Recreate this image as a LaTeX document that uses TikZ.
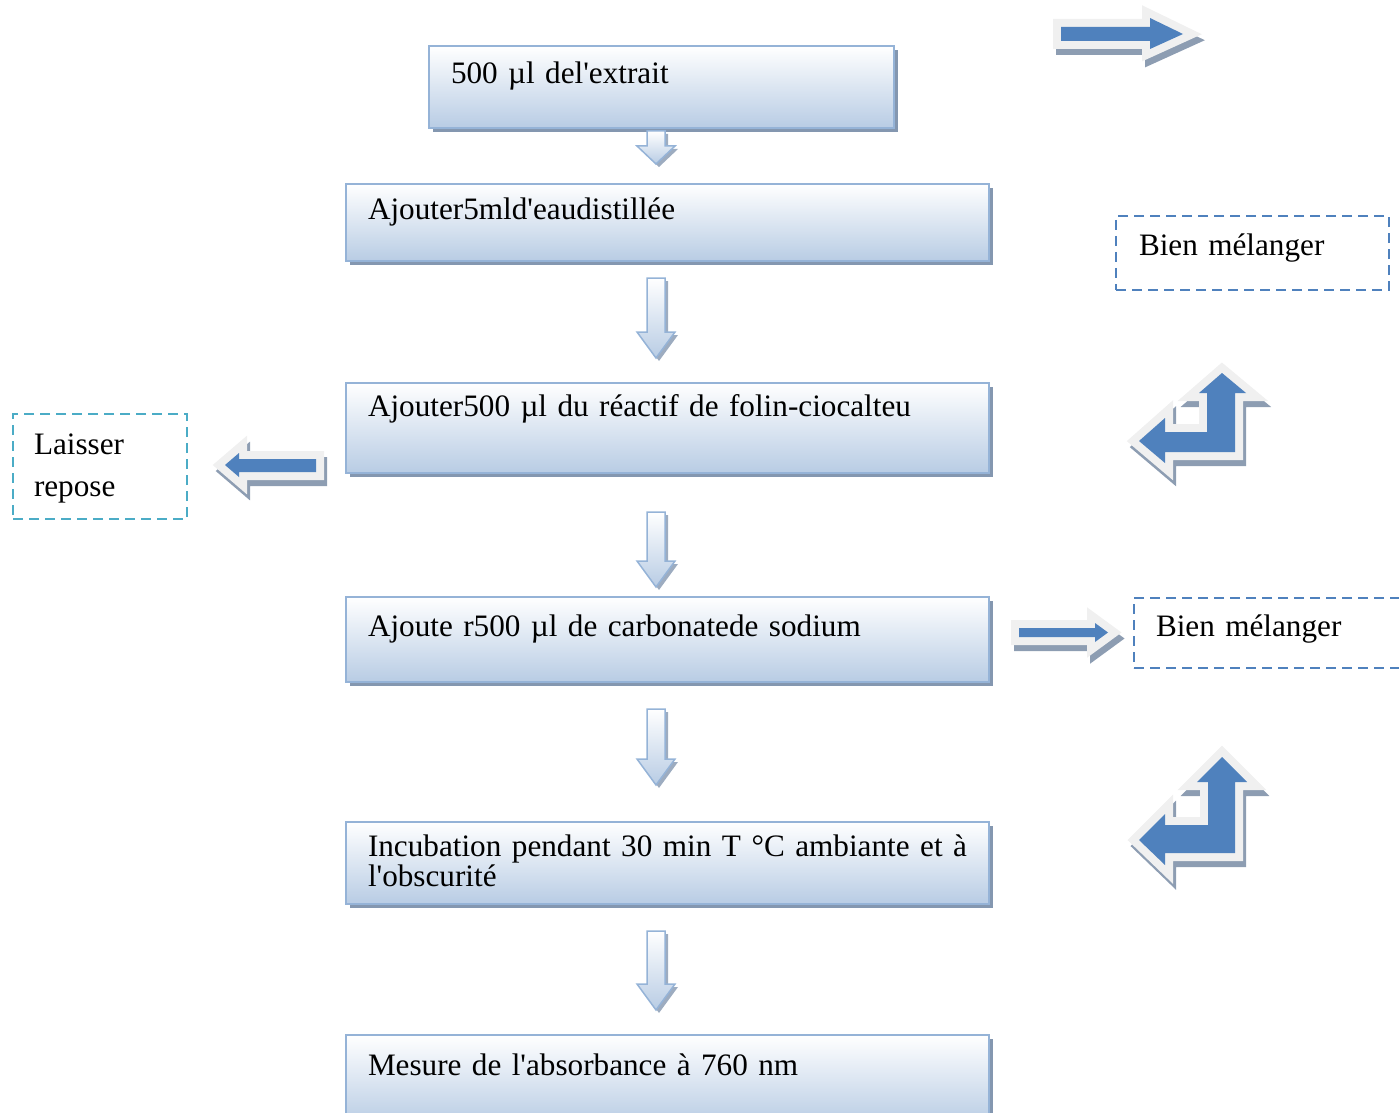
\documentclass[tikz,border=0pt]{standalone}
\usepackage{fontspec}
\setmainfont{Liberation Serif}[Ligatures=TeXOff]
\usetikzlibrary{shadows}

\definecolor{boxborder}{RGB}{149,179,215}
\definecolor{boxfill}{RGB}{184,204,228}
\definecolor{boxshadow}{RGB}{132,151,176}
\definecolor{blockblue}{RGB}{79,129,189}
\definecolor{blockrim}{RGB}{240,240,240}
\definecolor{blockshadow}{RGB}{141,157,178}
\definecolor{notecyan}{RGB}{75,172,198}

\begin{document}
\begin{tikzpicture}[x=0.5pt, y=-0.5pt, font=\fontsize{15.6}{15}\selectfont]
	\tikzstyle{Step}  = [rectangle, draw=boxborder, line width=1pt, top color=white, bottom color=boxfill, anchor=north west, inner xsep=11pt, inner ysep=0pt, text width=299.5pt, align=left, drop shadow={shadow xshift=2pt, shadow yshift=-2pt, fill=boxshadow, opacity=1}]
	\tikzstyle{Down}  = [draw=boxborder, line width=0.75pt, top color=white, bottom color=boxfill, drop shadow={shadow xshift=1.5pt, shadow yshift=-1.5pt, fill=boxshadow!80, opacity=1}]
	\tikzstyle{Note}  = [rectangle, draw=blockblue, line width=1pt, dash pattern=on 5pt off 3pt, anchor=north west, inner ysep=0pt, align=left]
	\tikzstyle{Block} = [fill=blockblue, miter limit=10,
		preaction={draw=blockshadow, fill=blockshadow, line width=8pt, transform canvas={shift={(1.5pt,-3pt)}}},
		preaction={draw=blockrim, fill=blockrim, line width=8pt}]

	\useasboundingbox (0,0) rectangle (1399,1113);

	% steps
	\node (s1) at (428,45) [Step, text width=210.5pt, text height=19pt, text depth=22pt] {500 µl del'extrait};
	\node (s2) at (345,183) [Step, text height=18pt, text depth=20.5pt] {Ajouter5mld'eaudistillée};
	\node (s3) at (345,382) [Step, text height=16.5pt, text depth=28.5pt] {Ajouter500 µl du réactif de folin-ciocalteu};
	\node (s4) at (345,596) [Step, text height=19.5pt, text depth=23pt] {Ajoute r500 µl de carbonatede sodium};
	\node (s5) at (345,821) [Step, align=justify, text height=17pt, text depth=24pt] {Incubation pendant 30 min T °C ambiante et à\linebreak l'obscurité};
	\node (s6) at (345,1034) [Step, text height=20pt, text depth=25pt] {Mesure de l'absorbance à 760 nm};

	% arrows between the steps
	\foreach \t/\b/\h in {131/164/18, 278/358/26, 512/587/26, 709/785/26, 931/1010/26}
		\draw[Down] (647,\t) -- (665,\t) -- (665,\b-\h) -- (675,\b-\h) -- (656,\b) -- (637,\b-\h) -- (647,\b-\h) -- cycle;

	% notes
	\node (mix1) at (1115,215) [Note, inner xsep=11.5pt, text width=113.5pt, text height=20pt, text depth=17pt] {Bien mélanger};
	\node (rest) at (12,413) [Note, draw=notecyan, font=\fontsize{15.6}{21}\selectfont, inner xsep=10.5pt, text width=66pt, text height=20pt, text depth=32.5pt] {Laisser\\repose};
	\node (mix2) at (1133,597) [Note, inner xsep=11pt, text width=123pt, text height=19pt, text depth=16pt] {Bien mélanger};

	% blue block arrows
	\path[Block] (1061,27) -- (1150,27) -- (1150,18) -- (1183,34) -- (1150,49) -- (1150,41) -- (1061,41) -- cycle;
	\path[Block] (316,459) -- (239,459) -- (239,453) -- (225,465) -- (239,477) -- (239,472) -- (316,472) -- cycle;
	\path[Block] (1019,628) -- (1095,628) -- (1095,623) -- (1108,632.5) -- (1095,642) -- (1095,637) -- (1019,637) -- cycle;
	\path[Block] (1222,373) -- (1246,393) -- (1235,393) -- (1235,452) -- (1165,452) -- (1165,463) -- (1139,441) -- (1165,418) -- (1165,432) -- (1207,432) -- (1207,393) -- (1199,393) -- cycle;
	\path[Block] (1222,757) -- (1247,782) -- (1235,782) -- (1235,853) -- (1165,853) -- (1165,865) -- (1139,840) -- (1165,814) -- (1165,825) -- (1208,825) -- (1208,782) -- (1197,782) -- cycle;
\end{tikzpicture}
\end{document}
